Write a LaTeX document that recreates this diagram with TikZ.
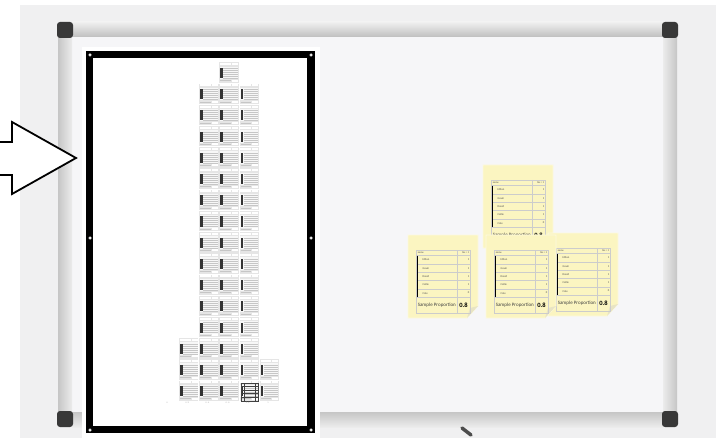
\documentclass[tikz,border=0pt]{standalone}
\usepackage{fontspec}
\newfontfamily\notefont{Carlito}
\definecolor{notey}{RGB}{251,245,193}
\definecolor{notefold}{RGB}{232,228,196}
\definecolor{boardbg}{RGB}{240,240,241}
\definecolor{boardin}{RGB}{246,246,248}
\tikzset{
  railcap/.style={fill=black!78,rounded corners=3pt},
  handle/.style={circle,fill=white,draw=gray!50,line width=0.3pt,inner sep=0pt,minimum size=3pt},
  ticklab/.style={inner sep=0pt,text=gray!70,font=\fontsize{2.2}{2.2}\selectfont},
  tline/.style={draw=gray!40,line width=0.6pt},
  hdtxt/.style={inner sep=0pt,text=black!70,font=\notefont\fontsize{2.6}{3}\selectfont},
  nametxt/.style={anchor=west,inner sep=0pt,text=black!70,font=\notefont\fontsize{2.8}{3}\selectfont},
  valtxt/.style={anchor=east,inner sep=0pt,text=black!70,font=\notefont\fontsize{2.8}{3}\selectfont},
  proptxt/.style={anchor=west,inner sep=0pt,text=black!75,font=\notefont\fontsize{5}{5}\selectfont},
  bigtxt/.style={inner sep=0pt,font=\notefont\bfseries\fontsize{6.5}{6.5}\selectfont},
  minicell/.pic={
    \fill[gray!20] (0.4,0.4) rectangle (19.8,20.8);
    \fill[gray!6] (1.2,4.5) rectangle (19,17);
    \fill[white] (1.2,1.2) rectangle (12,3.2);
    \fill[white] (13,1.2) rectangle (19,3.2);
    \fill[black!80] (1.5,6) rectangle (4,16);
    \foreach \k in {6,8,...,16} \draw[gray!45,line width=0.3pt] (4.5,\k) -- (19,\k);
    \draw[gray!45,line width=0.3pt] (1.5,18.5) -- (12,18.5);
    \fill[white] (13,17.6) rectangle (19,19.6);
  },
  sticky/.pic={
    \fill[notey,draw=notey!50!white,line width=0.8pt] (0,0) -- (70,0) -- (70,71) -- (59,83) -- (0,83) -- cycle;
    \fill[notefold] (70,71) -- (59,83) -- (62,73) -- cycle;
    \draw[tline] (8.7,15) rectangle (62,78);
    \draw[tline] (49,15) -- (49,78);
    \foreach \k in {20.7,29,37.3,45.6,53.9,62.2} \draw[tline] (8.7,\k) -- (62,\k);
    \draw[black,line width=0.9pt] (9.2,20.7) -- (9.2,62.2);
    \node[hdtxt,anchor=west] (hn) at (9.6,17.9) {name};
    \node[hdtxt,anchor=east] (hy) at (61.4,17.9) {Yes = 1};
    \foreach \nm/\v [count=\i] in {Ethan/1,Gavin/1,David/1,Callie/1,Cole/0} {
      \node[nametxt] (r\i) at (14.5,{20.7+(\i-0.5)*8.3}) {\nm};
      \node[valtxt] (v\i) at (61.4,{20.7+(\i-0.5)*8.3}) {\v};
    }
    \node[proptxt] (sp) at (9.6,70.1) {Sample Proportion};
    \node[bigtxt] (pv) at (55.5,70.3) {0.8};
  }
}
\begin{document}
\begin{tikzpicture}[x=1pt,y=-1pt]
\useasboundingbox (0,0) rectangle (727,438);
% whiteboard
\fill[boardbg] (20,5) rectangle (716,438);
\fill[boardin] (72,37) rectangle (663,412);
\shade[top color=gray!12,bottom color=gray!50] (72,22) rectangle (663,37);
\shade[top color=gray!45,bottom color=gray!15] (72,412) rectangle (663,427);
\shade[left color=gray!45,right color=gray!15] (58,37) rectangle (72,412);
\shade[left color=gray!15,right color=gray!45] (663,37) rectangle (677,412);
\fill[railcap] (57,22) rectangle (73,38);
\fill[railcap] (662,22) rectangle (678,38);
\fill[railcap] (57,411) rectangle (73,427);
\fill[railcap] (662,411) rectangle (678,427);
\draw[black!70,line width=3.5pt,line cap=round] (462,428) -- (471,435);

% framed dot plot
\fill[white] (82,47) rectangle (320,438);
\draw[line width=7.5pt] (89.5,54.5) rectangle (311,429.5);
\pic at (218.7,62.1) {minicell};
\foreach \r in {0,...,11}
  \foreach \c in {2,3,4}
    \pic at ({178.5+(\c-1)*20.2},{83.3+\r*21.2}) {minicell};
\foreach \c in {1,...,4}
  \pic at ({178.5+(\c-1)*20.2},{83.3+12*21.2}) {minicell};
\foreach \r in {13,14}
  \foreach \c in {1,...,5}
    \pic at ({178.5+(\c-1)*20.2},{83.3+\r*21.2}) {minicell};
\draw[black!75,line width=0.7pt] (241,383) rectangle (258,401);
\foreach \k in {386.5,390,393.5,397} \draw[black!75,line width=0.6pt] (241,\k) -- (258,\k);
\draw[black!75,line width=0.6pt] (244,383) -- (244,401) (255,383) -- (255,401);
\foreach \t [count=\i] in {0,0.2,0.4,0.6,0.8,1}
  \node[ticklab] (tk\i) at ({167+(\i-1)*20.2},403) {\t};
\node[handle] (h1) at (90,55) {};
\node[handle] (h2) at (311,55) {};
\node[handle] (h3) at (90,238) {};
\node[handle] (h4) at (311,238) {};
\node[handle] (h5) at (90,430) {};
\node[handle] (h6) at (311,430) {};

% block arrow
\filldraw[fill=white,line width=1.8pt,line join=miter] (0,142) -- (12,142) -- (12,122) -- (76,158) -- (12,194) -- (12,175) -- (0,175);

% sticky notes
\pic (ntop) at (483,165) {sticky};
\pic (nright) at (548,233) {sticky};
\pic (nmid) at (486,235) {sticky};
\pic (nleft) at (408,235) {sticky};
\end{tikzpicture}
\end{document}
